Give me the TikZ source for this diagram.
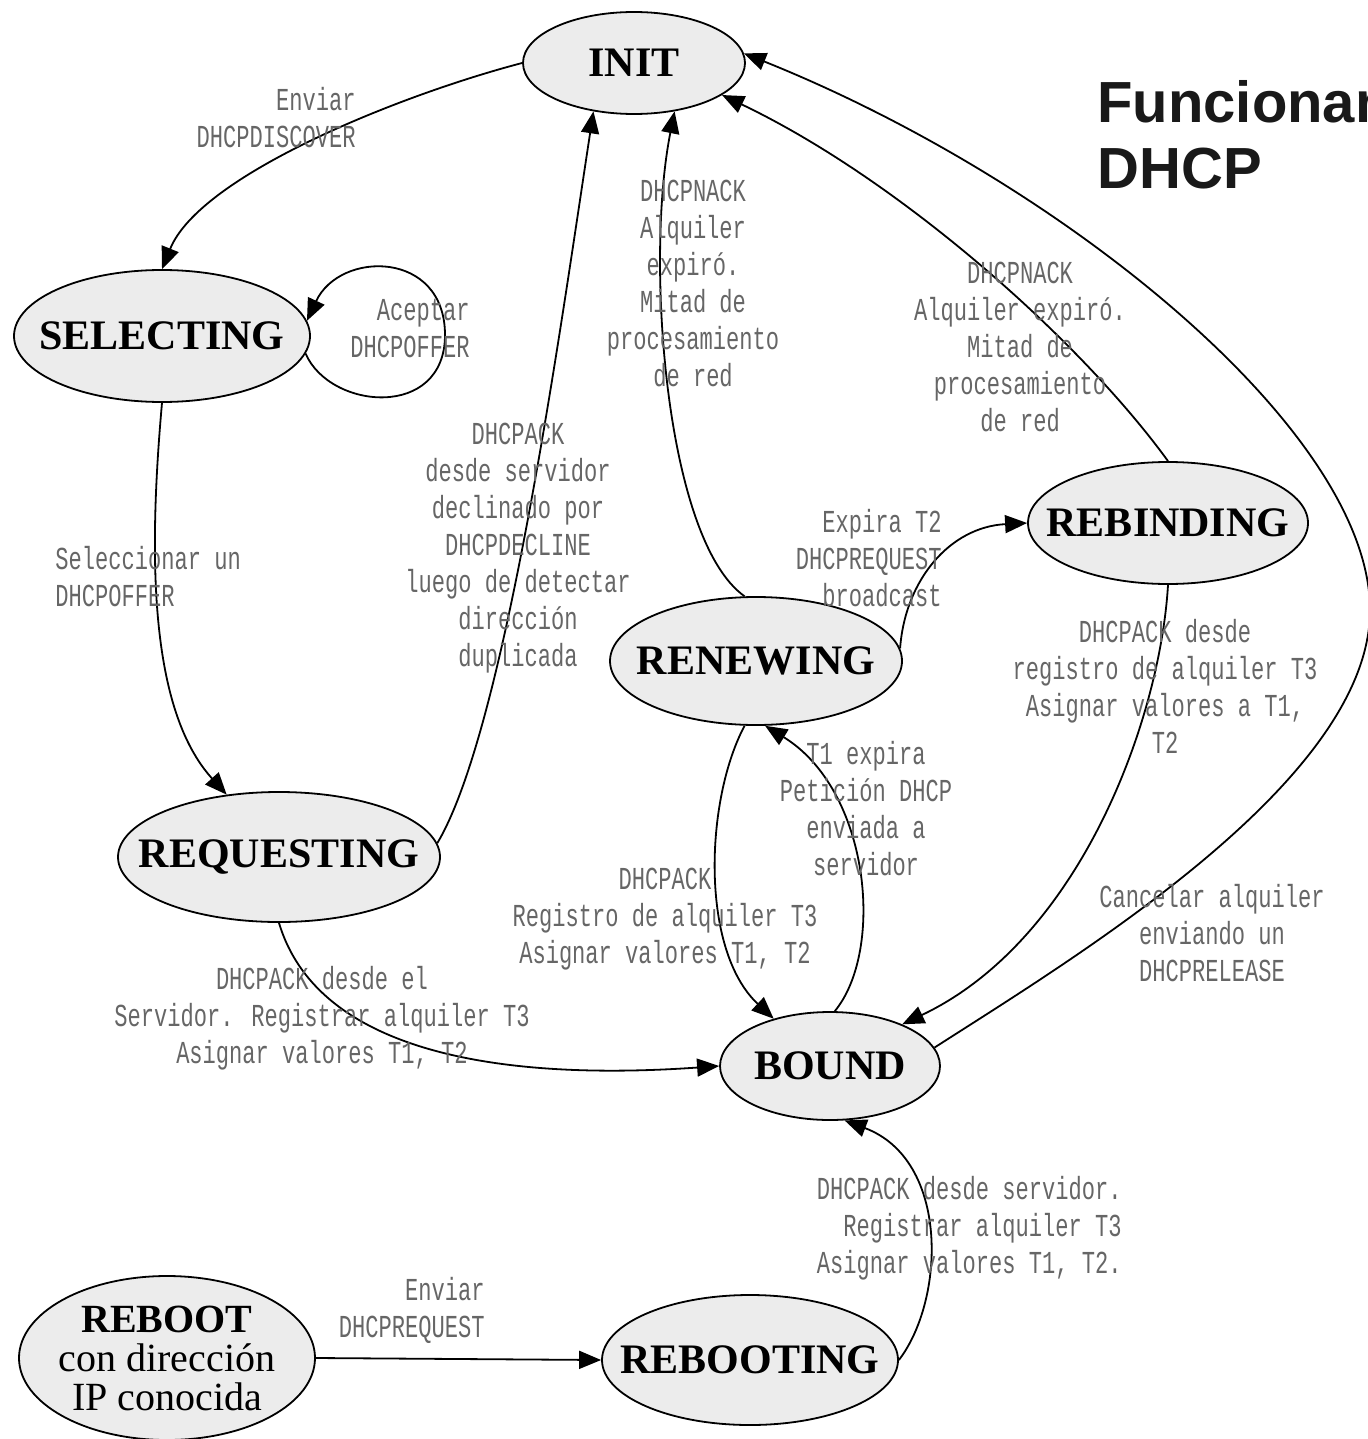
\documentclass[tikz,border=0pt]{standalone}
\usepackage{fontspec}
\setmainfont{Liberation Serif}
\newfontfamily\lblfont[FakeStretch=0.69]{Liberation Mono}
\newfontfamily\titlefont{Liberation Sans}
\usetikzlibrary{shapes.geometric,arrows.meta}

\begin{document}
\begin{tikzpicture}[
            x=0.5pt, y=-0.5pt,
            state/.style={ellipse, draw, line width=0.9pt, fill=gray!15,
                inner xsep=-14pt, inner ysep=0pt,
                font=\fontsize{21}{18.5}\selectfont\bfseries},
            lbl/.style={font={\lblfont\fontsize{16}{18.5}\selectfont},
                text=black!60, inner sep=0pt},
            trans/.style={line width=0.9pt, -{Triangle[length=11pt,width=9pt]}}
        ]
            \fill[white] (0,0) rectangle (1367,1439);
            \useasboundingbox (0,0) rectangle (1367,1439);

            % states
            \node[state, minimum width=111pt, minimum height=51pt] (init) at (634,63) {INIT};
            \node[state, minimum width=148pt, minimum height=66pt] (selecting) at (162,336) {SELECTING};
            \node[state, minimum width=161pt, minimum height=65pt] (requesting) at (279,857) {REQUESTING};
            \node[state, minimum width=146pt, minimum height=64pt] (renewing) at (756,661) {RENEWING};
            \node[state, minimum width=140pt, minimum height=61pt] (rebinding) at (1168,523) {REBINDING};
            \node[state, minimum width=110pt, minimum height=54pt] (bound) at (830,1066) {BOUND};
            \node[state, minimum width=148pt, minimum height=82pt, align=center,
                font=\fontsize{20}{19.5}\selectfont\bfseries] (reboot) at (167,1358)
                {REBOOT\\{\mdseries con dirección}\\{\mdseries IP conocida}};
            \node[state, minimum width=148pt, minimum height=65pt] (rebooting) at (750,1360) {REBOOTING};

            % transitions
            \draw[trans] (init.west) .. controls (400,95) and (200,175) .. (selecting.north);
            \draw[trans] (selecting.-7) .. controls (330,410) and (445,420) .. (445,335)
                .. controls (445,250) and (340,250) .. (selecting.6);
            \draw[trans] (selecting.south) .. controls (148,560) and (150,710) .. (requesting.130);
            \draw[trans] (requesting.5) .. controls (505,730) and (560,330) .. (init.230);
            \draw[trans] (renewing.100) .. controls (665,540) and (645,260) .. (init.310);
            \draw[trans] (rebinding.north) .. controls (1080,340) and (900,180) .. (init.340);
            \draw[trans] (bound.10) .. controls (1077,956) and (1370,780) .. (1370,610)
                .. controls (1370,430) and (1060,180) .. (init.5);
            \draw[trans] (renewing.5) .. controls (905,580) and (950,527) .. (rebinding.west);
            \draw[trans] (rebinding.south) .. controls (1160,720) and (1080,940) .. (bound.30);
            \draw[trans] (renewing.260) .. controls (705,800) and (700,950) .. (bound.140);
            \draw[trans] (bound.85) .. controls (885,950) and (870,790) .. (renewing.278);
            \draw[trans] (requesting.south) .. controls (320,1060) and (520,1080) .. (bound.west);
            \draw[trans] (rebooting.east) .. controls (945,1300) and (950,1160) .. (bound.285);
            \draw[trans] (reboot.east) -- (rebooting.west);

            % labels
            \node[lbl, align=right, anchor=east] (lsend) at (356,118) {Enviar\\DHCPDISCOVER};
            \node[lbl, align=right, anchor=east] (laccept) at (470,328) {Aceptar\\DHCPOFFER};
            \node[lbl, align=left, anchor=west] (lselect) at (55,577) {Seleccionar un\\DHCPOFFER};
            \node[lbl, align=center] (ldecline) at (518,548)
                {DHCPACK\\desde servidor\\declinado por\\DHCPDECLINE\\luego de detectar\\dirección\\duplicada};
            \node[lbl, align=center] (lnackA) at (693,283)
                {DHCPNACK\\Alquiler\\expiró.\\Mitad de\\procesamiento\\de red};
            \node[lbl, align=center] (lnackB) at (1020,347)
                {DHCPNACK\\Alquiler expiró.\\Mitad de\\procesamiento\\de red};
            \node[lbl, align=center] (lrelease) at (1212,933) {Cancelar alquiler\\enviando un\\DHCPRELEASE};
            \node[lbl, align=right, anchor=east] (lexpT2) at (942,558) {Expira T2\\DHCPREQUEST\\broadcast};
            \node[lbl, align=center] (lrebind) at (1165,686)
                {DHCPACK desde\\registro de alquiler T3\\Asignar valores a T1,\\T2};
            \node[lbl, align=center] (lrenew) at (665,919)
                {DHCPACK\\Registro de alquiler T3\\Asignar valores T1, T2};
            \node[lbl, align=center] (lexpT1) at (866,809) {T1 expira\\Petición DHCP\\enviada a\\servidor};
            \node[lbl, align=center] (lrequest) at (322,1018)
                {DHCPACK desde el\\Servidor. Registrar alquiler T3\\Asignar valores T1, T2};
            \node[lbl, align=right, anchor=east] (lreboot) at (1122,1228)
                {DHCPACK desde servidor.\\Registrar alquiler T3\\Asignar valores T1, T2.};
            \node[lbl, align=right, anchor=east] (lsendreq) at (485,1310) {Enviar\\DHCPREQUEST};

            % title, cut by the page edge
            \begin{scope}
                \clip (0,0) rectangle (1367,1439);
                \node[font={\titlefont\bfseries\fontsize{29}{33}\selectfont}, text=black!90,
                    align=left, anchor=north west, inner sep=0pt] (title) at (1097,80)
                    {Funcionamiento\\DHCP};
            \end{scope}
        \end{tikzpicture}
\end{document}
